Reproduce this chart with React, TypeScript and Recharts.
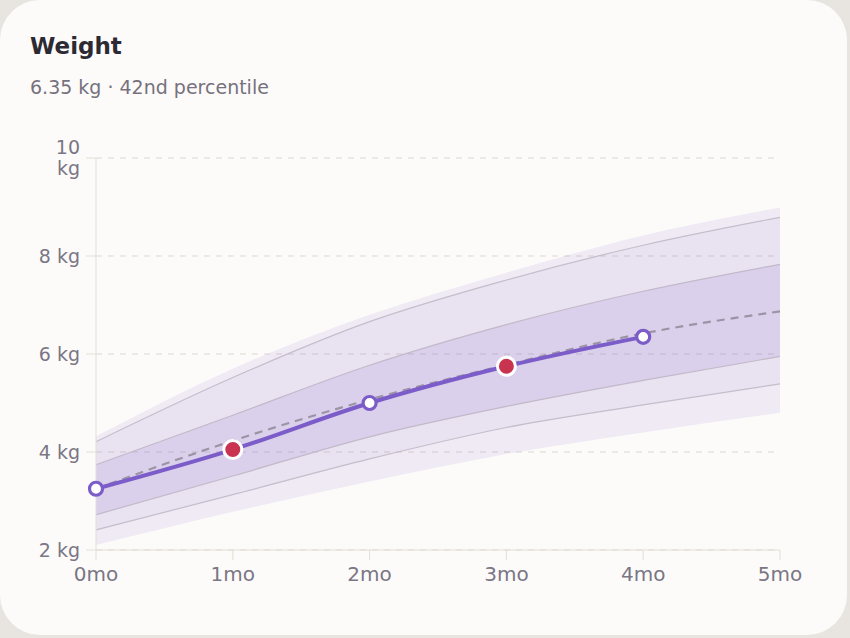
import React from 'react';
import { ComposedChart, Area, Line, XAxis, YAxis, CartesianGrid } from 'recharts';

const months = [0, 1, 2, 3, 4, 5];
const outerLow = [2.1, 2.78, 3.4, 3.96, 4.4, 4.8];
const outerHigh = [4.32, 5.7, 6.8, 7.66, 8.42, 8.99];
const p3 = [2.41, 3.13, 3.86, 4.5, 4.96, 5.39];
const p97 = [4.21, 5.52, 6.66, 7.51, 8.22, 8.79];
const p15 = [2.72, 3.51, 4.31, 4.93, 5.46, 5.95];
const p85 = [3.74, 4.75, 5.77, 6.6, 7.28, 7.83];
const median = [3.25, 4.23, 5.07, 5.78, 6.42, 6.87];
const babyWeight = [3.25, 4.05, 5.0, 5.75, 6.35];
const highlighted = [false, true, false, true, false];

const xTicks = [0, 1, 2, 3, 4, 5];
const yTicks = [2, 4, 6, 8, 10];

const rows = months.map((m, i) => ({
  month: m,
  outer: [outerLow[i], outerHigh[i]],
  mid: [p3[i], p97[i]],
  inner: [p15[i], p85[i]],
  median: median[i],
  baby: i < babyWeight.length ? babyWeight[i] : null,
  hl: i < highlighted.length ? highlighted[i] : false,
}));

const FONT = '"DejaVu Sans", sans-serif';
const TICK_COLOR = '#7a7684';
const PURPLE = '#7b5cc8';
const Y_LABEL_WIDTH = 46;
const Y_FONT_SIZE = 19;

let measureCtx: CanvasRenderingContext2D | null = null;
const measure = (s: string) => {
  if (!measureCtx) {
    const c = document.createElement('canvas');
    measureCtx = c.getContext('2d');
  }
  if (!measureCtx) return s.length * Y_FONT_SIZE * 0.6;
  measureCtx.font = `${Y_FONT_SIZE}px ${FONT}`;
  return measureCtx.measureText(s).width;
};

const YTick = (props: any) => {
  const { x, y, payload } = props;
  const label = `${payload.value} kg`;
  const lines = measure(label) > Y_LABEL_WIDTH ? label.split(' ') : [label];
  const lh = 21;
  const startDy = -((lines.length - 1) * lh) / 2;
  return (
    <text
      x={x}
      y={y}
      textAnchor="end"
      fill={TICK_COLOR}
      fontSize={Y_FONT_SIZE}
      fontFamily={FONT}
    >
      {lines.map((ln, i) => (
        <tspan key={i} x={x} dy={i === 0 ? startDy + 0.355 * Y_FONT_SIZE : lh}>
          {ln}
        </tspan>
      ))}
    </text>
  );
};

const BabyDot = (props: any) => {
  const { cx, cy, payload, index } = props;
  if (cx == null || cy == null || payload.baby == null) return <g key={`d${index}`} />;
  if (payload.hl) {
    return <circle key={`d${index}`} cx={cx} cy={cy} r={9} fill="#c8344f" stroke="#ffffff" strokeWidth={3} />;
  }
  return <circle key={`d${index}`} cx={cx} cy={cy} r={6.5} fill="#ffffff" stroke={PURPLE} strokeWidth={3.2} />;
};

export default function App() {
  return (
    <div style={{ position: 'fixed', left: 0, top: 0, width: 850, height: 638, background: '#e8e5e1' }}>
      <div
        style={{
          position: 'absolute',
          left: 0,
          top: 0,
          width: 847,
          height: 635,
          borderRadius: 40,
          background: '#fcfbfa',
          overflow: 'hidden',
        }}
      >
        <div
          style={{
            position: 'absolute',
            left: 30,
            top: 35,
            fontFamily: FONT,
            fontWeight: 700,
            fontSize: 23,
            lineHeight: '23px',
            color: '#2d2a33',
            whiteSpace: 'nowrap',
          }}
        >
          Weight
        </div>
        <div
          style={{
            position: 'absolute',
            left: 30,
            top: 78,
            fontFamily: FONT,
            fontSize: 19,
            lineHeight: '19px',
            color: '#76717d',
            whiteSpace: 'nowrap',
          }}
        >
          6.35 kg · 42nd percentile
        </div>
        <div style={{ position: 'absolute', left: 0, top: 0 }}>
          <ComposedChart
            width={847}
            height={600}
            data={rows}
            margin={{ top: 158, right: 67, bottom: 20, left: 49 }}
          >
            <CartesianGrid vertical={false} stroke="#ddd7cf" strokeDasharray="6 6" />
            <XAxis
              dataKey="month"
              type="number"
              domain={[0, 5]}
              ticks={xTicks}
              tickFormatter={(v: number) => `${v}mo`}
              height={30}
              tickSize={10}
              tickMargin={7}
              stroke="#e4ded4"
              tick={{ fill: TICK_COLOR, fontSize: 20, fontFamily: FONT }}
              interval={0}
            />
            <YAxis
              type="number"
              domain={[2, 10]}
              ticks={yTicks}
              width={47}
              tickSize={10}
              tickMargin={6}
              stroke="#e4ded4"
              tick={<YTick />}
              interval={0}
            />
            <Area
              dataKey="outer"
              type="monotone"
              stroke="none"
              fill={PURPLE}
              fillOpacity={0.1}
              isAnimationActive={false}
              activeDot={false}
              dot={false}
            />
            <Area
              dataKey="mid"
              type="monotone"
              stroke="#c5bdcb"
              strokeWidth={1.2}
              fill={PURPLE}
              fillOpacity={0.055}
              isAnimationActive={false}
              activeDot={false}
              dot={false}
            />
            <Area
              dataKey="inner"
              type="monotone"
              stroke="#c2b9c9"
              strokeWidth={1.2}
              fill={PURPLE}
              fillOpacity={0.13}
              isAnimationActive={false}
              activeDot={false}
              dot={false}
            />
            <Line
              dataKey="median"
              type="monotone"
              stroke="#9c94a4"
              strokeWidth={2.2}
              strokeDasharray="8 6"
              dot={false}
              activeDot={false}
              isAnimationActive={false}
            />
            <Line
              dataKey="baby"
              type="monotone"
              stroke={PURPLE}
              strokeWidth={4}
              dot={<BabyDot />}
              activeDot={false}
              connectNulls={false}
              isAnimationActive={false}
            />
          </ComposedChart>
        </div>
      </div>
    </div>
  );
}
